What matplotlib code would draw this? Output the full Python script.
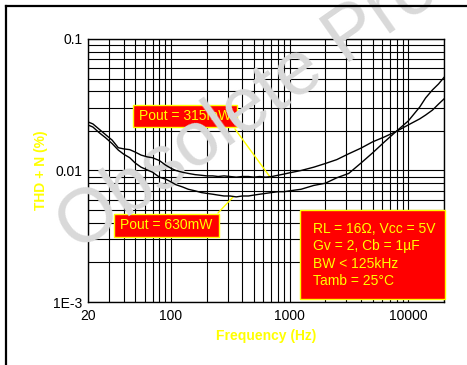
import matplotlib
matplotlib.use("Agg")
import matplotlib.pyplot as plt
from matplotlib.patches import Rectangle
from matplotlib.lines import Line2D
from matplotlib.ticker import FixedLocator, LogLocator, NullFormatter

plt.rcParams['font.family'] = ['Liberation Sans', 'DejaVu Sans']

# Frequency points (Hz)
freq = [20, 22, 25, 28, 32, 36, 40, 45, 50, 56, 63, 70, 80, 90, 100, 110, 125,
        140, 160, 180, 200, 225, 250, 280, 315, 355, 400, 450, 500, 560, 630,
        710, 800, 900, 1000, 1250, 1600, 2000, 2500, 3150, 4000, 5000, 6300,
        8000, 10000, 12500, 14000, 16000, 18000, 20000]

# THD + N (%) for Pout = 315mW
thd_315 = [0.0234, 0.0226, 0.0205, 0.0188, 0.0170, 0.0149, 0.0146, 0.0144, 0.0138,
           0.0131, 0.0127, 0.0125, 0.0119, 0.0110, 0.0104, 0.0100, 0.0097, 0.0095,
           0.0093, 0.0092, 0.0091, 0.0091, 0.0090, 0.0091, 0.0090, 0.0089, 0.0090,
           0.0090, 0.0089, 0.0090, 0.0089, 0.0090, 0.0092, 0.0094, 0.0096, 0.0100,
           0.0106, 0.0113, 0.0121, 0.0134, 0.0148, 0.0165, 0.0180, 0.0199, 0.0222,
           0.0247, 0.0264, 0.0288, 0.0320, 0.0350]

# THD + N (%) for Pout = 630mW
thd_630 = [0.0222, 0.0214, 0.0193, 0.0178, 0.0160, 0.0143, 0.0133, 0.0125, 0.0114,
           0.0106, 0.0101, 0.0097, 0.0089, 0.0086, 0.0082, 0.0078, 0.0075, 0.0072,
           0.0070, 0.0068, 0.0067, 0.0066, 0.0065, 0.0064, 0.0064, 0.0063, 0.0064,
           0.0064, 0.0065, 0.0066, 0.0067, 0.0068, 0.0069, 0.0069, 0.0070, 0.0072,
           0.0077, 0.0080, 0.0088, 0.0095, 0.0114, 0.0136, 0.0165, 0.0200, 0.0238,
           0.0304, 0.0356, 0.0410, 0.0455, 0.0510]

xticks = [20, 100, 1000, 10000]
xtick_labels = ['20', '100', '1000', '10000']
yticks = [0.001, 0.01, 0.1]
ytick_labels = ['1E-3', '0.01', '0.1']

info_lines = ['RL = 16\u03a9, Vcc = 5V', 'Gv = 2, Cb = 1\u00b5F',
              'BW < 125kHz', 'Tamb = 25\u00b0C']

fig = plt.figure(figsize=(4.67, 3.65), dpi=100)
ax = fig.add_axes([0.1884, 0.1726, 0.7623, 0.7206])

ax.set_xscale('log')
ax.set_yscale('log')
ax.set_xlim(20, 20000)
ax.set_ylim(0.001, 0.1)

# grid on every decade subdivision
ax.xaxis.set_major_locator(FixedLocator(xticks))
ax.xaxis.set_minor_locator(LogLocator(base=10, subs=range(1, 10)))
ax.xaxis.set_minor_formatter(NullFormatter())
ax.set_xticklabels(xtick_labels)
ax.yaxis.set_major_locator(FixedLocator(yticks))
ax.yaxis.set_minor_locator(LogLocator(base=10, subs=range(1, 10)))
ax.yaxis.set_minor_formatter(NullFormatter())
ax.set_yticklabels(ytick_labels)
ax.grid(which='both', color='black', linewidth=0.8, zorder=0.5)
ax.set_axisbelow(True)
ax.tick_params(which='both', length=0, labelsize=10, colors='black')
ax.tick_params(axis='x', pad=5)
ax.tick_params(axis='y', pad=4)
for s in ax.spines.values():
    s.set_color('black')
    s.set_linewidth(1.0)

ax.plot(freq, thd_315, color='black', linewidth=1.0, zorder=6)
ax.plot(freq, thd_630, color='black', linewidth=1.0, zorder=6)

ax.set_xlabel('Frequency (Hz)', color='#ffff00', fontweight='bold', fontsize=10, labelpad=4)
ax.set_ylabel('THD + N (%)', color='#ffff00', fontweight='bold', fontsize=10, labelpad=4)

# label boxes
ax.add_patch(Rectangle((0.1264, 0.6654), 0.2921, 0.0836, transform=ax.transAxes,
                       facecolor='#ff0000', edgecolor='#ffff00', linewidth=1.0, zorder=3))
ax.text(0.2725, 0.7072, 'Pout = 315mW', transform=ax.transAxes, color='#ffff00',
        fontsize=10, ha='center', va='center', zorder=3.5)
ax.add_patch(Rectangle((0.073, 0.247), 0.295, 0.0876, transform=ax.transAxes,
                       facecolor='#ff0000', edgecolor='#ffff00', linewidth=1.0, zorder=3))
ax.text(0.2205, 0.2909, 'Pout = 630mW', transform=ax.transAxes, color='#ffff00',
        fontsize=10, ha='center', va='center', zorder=3.5)

ax.annotate('', xy=(684, 0.00893), xytext=(0.4129, 0.6578), textcoords='axes fraction',
            arrowprops=dict(arrowstyle='-', color='#ffff00', lw=1.0, shrinkA=0, shrinkB=0),
            zorder=3)
ax.annotate('', xy=(334, 0.00629), xytext=(0.3652, 0.3384), textcoords='axes fraction',
            arrowprops=dict(arrowstyle='-', color='#ffff00', lw=1.0, shrinkA=0, shrinkB=0),
            zorder=3)

# conditions box
ax.add_patch(Rectangle((0.5955, 0.0114), 0.4075, 0.3384, transform=ax.transAxes,
                       facecolor='#ff0000', edgecolor='#ffff00', linewidth=1.0,
                       zorder=3, clip_on=False))
for i, line in enumerate(info_lines):
    ax.text(0.632, 0.278 - i * 0.0661, line, transform=ax.transAxes, color='#ffff00',
            fontsize=10, ha='left', va='center', zorder=3.5)

# watermark (runs off the top edge, as on the datasheet page)
ax.text(0.164, 0.307, 'Obsolete Product(s)', transform=fig.transFigure,
        rotation=35, rotation_mode='anchor', ha='left', va='baseline',
        fontsize=55, color='#d9d9d9', zorder=4, clip_on=False)

# page frame (top and left only)
fig.add_artist(Line2D([6 / 467, 1.0], [1 - 6 / 365, 1 - 6 / 365], color='black', linewidth=1.6))
fig.add_artist(Line2D([6 / 467, 6 / 467], [0.0, 1 - 6 / 365], color='black', linewidth=1.6))

fig.savefig('out.png', dpi=100)
